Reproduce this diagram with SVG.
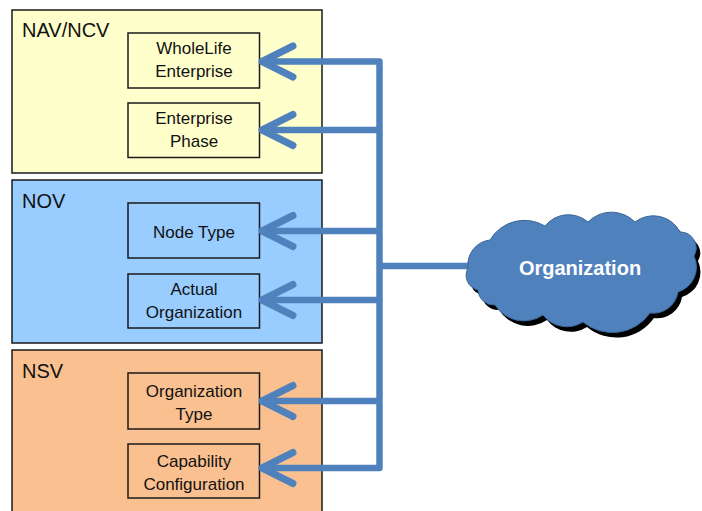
<svg xmlns="http://www.w3.org/2000/svg" width="702" height="511" viewBox="0 0 702 511">
<style>
.outer{stroke:#1a1a1a;stroke-width:1.5}
.inner{stroke:#1a1a1a;stroke-width:1.5}
.title{font-family:"Liberation Sans",Arial,sans-serif;font-size:20px;fill:#111}
.lbl{font-family:"Liberation Sans",Arial,sans-serif;font-size:17px;fill:#111;text-anchor:middle}
.conn{fill:none;stroke:#4f81bd;stroke-width:6.5;stroke-linejoin:round}
.head{fill:none;stroke:#4f81bd;stroke-width:7;stroke-linecap:round;stroke-linejoin:round}
</style>
<defs>
<path id="cloud" d="M468,268 A25,25 0 0 1 490,240 A40,40 0 0 1 545,226 A30,30 0 0 1 588,222 A33,33 0 0 1 635,222 A30,30 0 0 1 680,232 A16,16 0 0 1 694,256 A26,26 0 0 1 678,292 A25,25 0 0 1 650,313 A46,46 0 0 1 583,322 A30,30 0 0 1 543,315 A34,34 0 0 1 495,305 A16,16 0 0 1 478,290 A15,15 0 0 1 468,268 Z"/>
</defs>
<rect width="702" height="511" fill="#ffffff"/>
<g id="nav">
<rect class="outer" x="12" y="10" width="310" height="163" fill="#ffffcc"/>
<text class="title" x="22" y="37">NAV/NCV</text>
</g>
<g id="wholelife">
<rect class="inner" x="128" y="33" width="131.5" height="55" fill="#ffffcc"/>
<text class="lbl" x="194" y="54">WholeLife</text>
<text class="lbl" x="194" y="77">Enterprise</text>
</g>
<g id="phase">
<rect class="inner" x="128" y="103" width="131.5" height="54.5" fill="#ffffcc"/>
<text class="lbl" x="194" y="124">Enterprise</text>
<text class="lbl" x="194" y="147">Phase</text>
</g>
<g id="nov">
<rect class="outer" x="12" y="180" width="310" height="163" fill="#99ccff"/>
<text class="title" x="22" y="208">NOV</text>
</g>
<g id="nodetype">
<rect class="inner" x="128" y="203" width="131.5" height="55" fill="#99ccff"/>
<text class="lbl" x="194" y="238">Node Type</text>
</g>
<g id="actual">
<rect class="inner" x="128" y="274" width="131.5" height="54" fill="#99ccff"/>
<text class="lbl" x="194" y="295">Actual</text>
<text class="lbl" x="194" y="318">Organization</text>
</g>
<g id="nsv">
<rect class="outer" x="12" y="350" width="310" height="170" fill="#fac090"/>
<text class="title" x="22" y="378">NSV</text>
</g>
<g id="orgtype">
<rect class="inner" x="128" y="373" width="131.5" height="56" fill="#fac090"/>
<text class="lbl" x="194" y="397">Organization</text>
<text class="lbl" x="194" y="420">Type</text>
</g>
<g id="capability">
<rect class="inner" x="128" y="444" width="131.5" height="54" fill="#fac090"/>
<text class="lbl" x="194" y="467">Capability</text>
<text class="lbl" x="194" y="490">Configuration</text>
</g>
<g id="connectors">
<path class="conn" d="M263,61.5 H379.5 V468 H263"/>
<path class="conn" d="M263,130 H379.5"/>
<path class="conn" d="M263,231 H379.5"/>
<path class="conn" d="M263,300 H379.5"/>
<path class="conn" d="M263,401 H379.5"/>
<path class="conn" d="M379.5,266 H470"/>
<polyline class="head" points="293,46 262,61.5 293,77"/>
<polyline class="head" points="293,114.5 262,130 293,145.5"/>
<polyline class="head" points="293,215.5 262,231 293,246.5"/>
<polyline class="head" points="293,284.5 262,300 293,315.5"/>
<polyline class="head" points="293,385.5 262,401 293,416.5"/>
<polyline class="head" points="293,452.5 262,468 293,483.5"/>
</g>
<g id="organization">
<use href="#cloud" transform="translate(4,5)" fill="#000"/>
<use href="#cloud" fill="#4f81bd" stroke="#3a6596" stroke-width="1"/>
<text x="580" y="275" text-anchor="middle" font-family="'Liberation Sans',Arial,sans-serif" font-size="20" font-weight="bold" fill="#ffffff">Organization</text>
</g>
</svg>
